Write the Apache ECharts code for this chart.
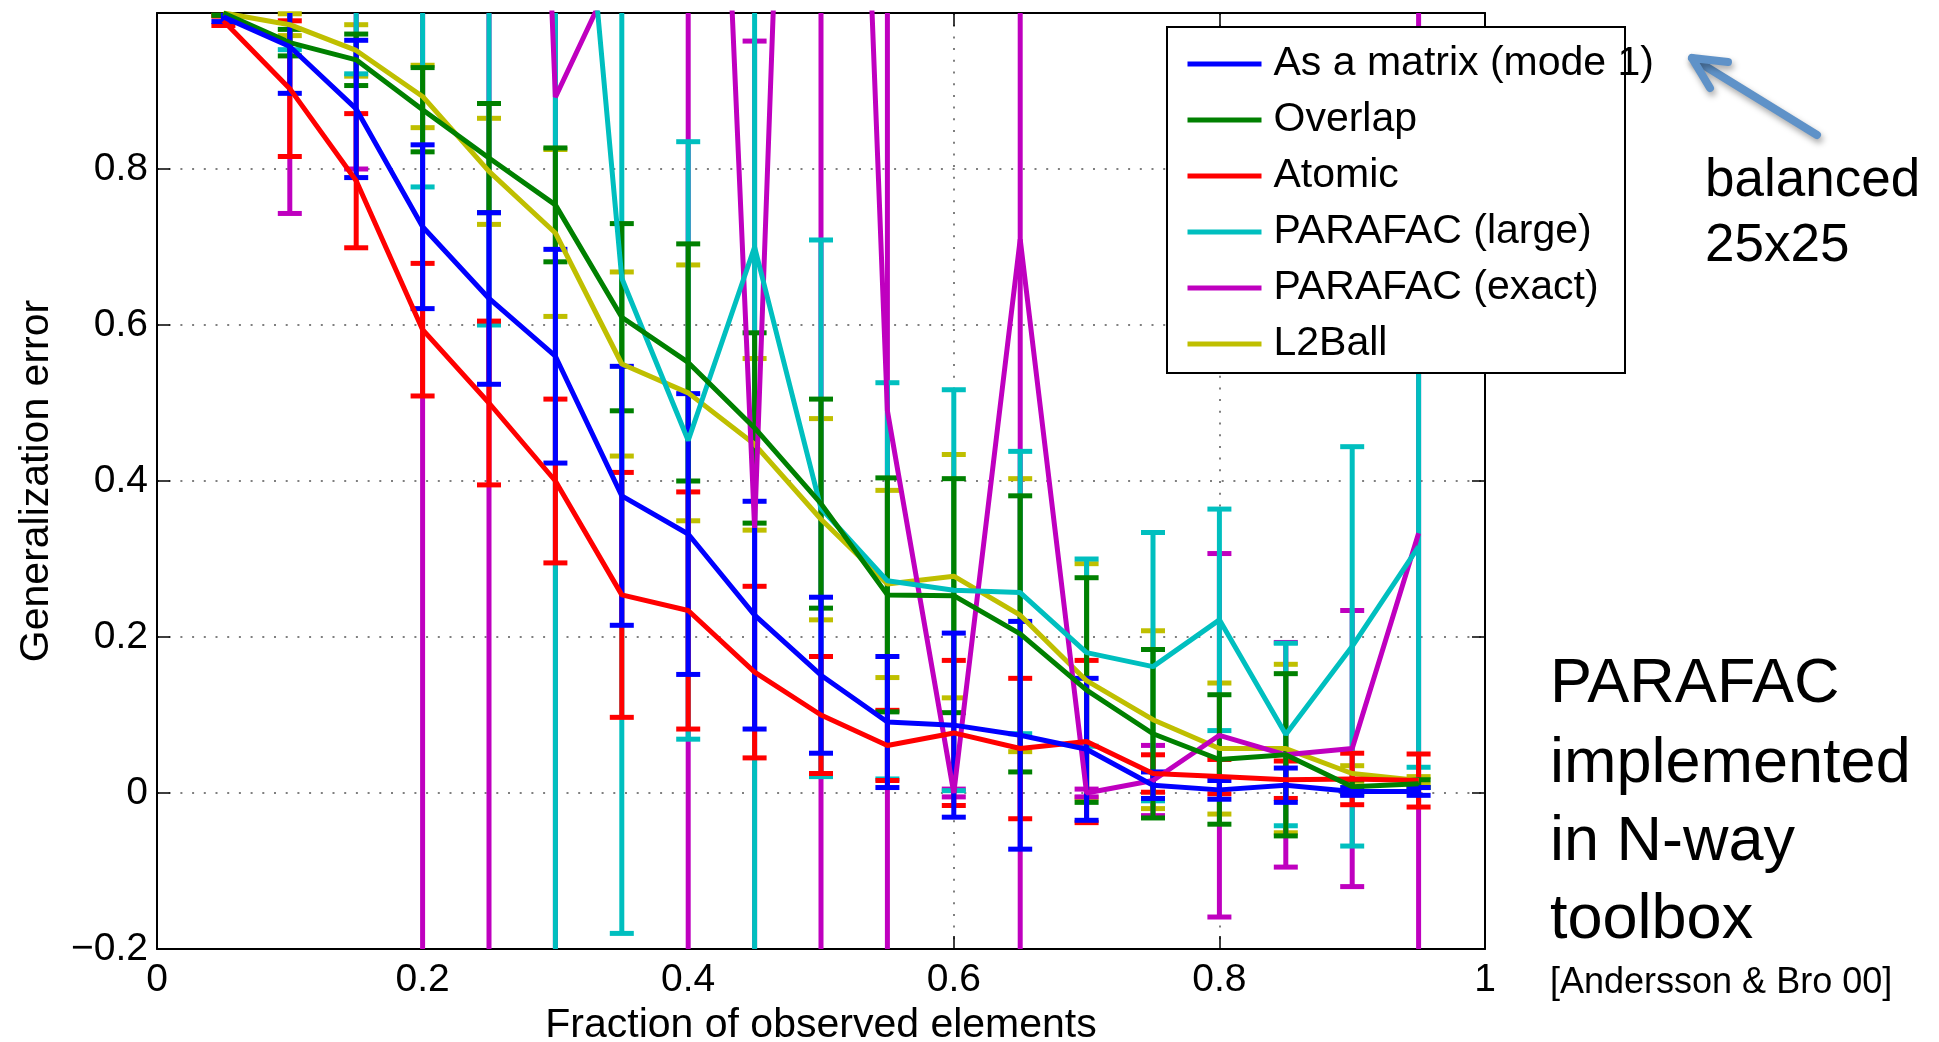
<!DOCTYPE html>
<html>
<head>
<meta charset="utf-8">
<title>Generalization error</title>
<script src="https://cdn.jsdelivr.net/npm/echarts@6/dist/echarts.min.js"></script>
<style>
  html, body { margin: 0; padding: 0; background: #fff; }
  #chart { width: 1939px; height: 1042px; }
</style>
</head>
<body>
<div id="chart"></div>
<script>
const fractions = [0.05, 0.1, 0.15, 0.2, 0.25, 0.3, 0.35, 0.4, 0.45, 0.5, 0.55, 0.6, 0.65, 0.7, 0.75, 0.8, 0.85, 0.9, 0.95];

// mean and half-width of the error bar
const matrixMean  = [0.995, 0.957, 0.877, 0.726, 0.634, 0.56, 0.381, 0.332, 0.228, 0.151, 0.091, 0.087, 0.074, 0.056, 0.01, 0.004, 0.01, 0.002, 0.002];
const matrixErr   = [0.006, 0.06, 0.088, 0.105, 0.11, 0.137, 0.166, 0.18, 0.146, 0.1, 0.084, 0.118, 0.146, 0.091, 0.017, 0.012, 0.022, 0.005, 0.005];
const overlapMean = [1.0, 0.962, 0.94, 0.876, 0.814, 0.754, 0.61, 0.552, 0.468, 0.371, 0.254, 0.253, 0.204, 0.132, 0.076, 0.043, 0.049, 0.008, 0.012];
const overlapErr  = [0.003, 0.017, 0.033, 0.054, 0.07, 0.073, 0.12, 0.152, 0.122, 0.134, 0.15, 0.15, 0.177, 0.144, 0.108, 0.083, 0.104, 0.009, 0.005];
const atomicMean  = [0.99, 0.903, 0.785, 0.594, 0.5, 0.4, 0.254, 0.234, 0.155, 0.1, 0.061, 0.077, 0.057, 0.066, 0.025, 0.021, 0.017, 0.018, 0.016];
const atomicErr   = [0.006, 0.087, 0.086, 0.085, 0.105, 0.105, 0.157, 0.152, 0.11, 0.075, 0.045, 0.093, 0.09, 0.104, 0.024, 0.022, 0.024, 0.033, 0.034];
const largeMean   = [1.02, 1.1, 1.2, 1.4, 1.6, 1.6, 0.66, 0.452, 0.7, 0.365, 0.272, 0.26, 0.257, 0.18, 0.162, 0.222, 0.075, 0.188, 0.316];
const largeErr    = [0.01, 0.147, 0.278, 0.623, 1.0, 2.0, 0.84, 0.383, 1.0, 0.344, 0.254, 0.257, 0.181, 0.12, 0.172, 0.142, 0.117, 0.256, 0.283];
const exactMean   = [1.05, 1.05, 1.6, 2.5, 3.0, 0.892, 1.073, 2.3, 0.34, 2.7, 0.49, 0.0, 0.71, 0.0, 0.016, 0.074, 0.049, 0.057, 0.333];
const exactErr    = [0.005, 0.307, 0.8, 3.0, 3.5, 1.5, 0.05, 2.6, 0.624, 3.0, 0.9, 0.005, 1.0, 0.005, 0.045, 0.233, 0.144, 0.177, 1.0];
const l2Mean      = [1.0, 0.985, 0.952, 0.893, 0.797, 0.718, 0.55, 0.513, 0.447, 0.351, 0.268, 0.278, 0.228, 0.144, 0.094, 0.057, 0.057, 0.025, 0.016];
const l2Err       = [0.003, 0.014, 0.033, 0.04, 0.068, 0.107, 0.118, 0.164, 0.11, 0.129, 0.12, 0.156, 0.175, 0.15, 0.114, 0.084, 0.108, 0.01, 0.005];

const legendNames = ['As a matrix (mode 1)', 'Overlap', 'Atomic', 'PARAFAC (large)', 'PARAFAC (exact)', 'L2Ball'];

// drawing order, bottom to top
const methods = [
  { name: 'L2Ball', mean: l2Mean, err: l2Err, color: '#bfbf00' },
  { name: 'PARAFAC (exact)', mean: exactMean, err: exactErr, color: '#bf00bf' },
  { name: 'PARAFAC (large)', mean: largeMean, err: largeErr, color: '#00bfbf' },
  { name: 'Atomic', mean: atomicMean, err: atomicErr, color: '#ff0000' },
  { name: 'Overlap', mean: overlapMean, err: overlapErr, color: '#008000' },
  { name: 'As a matrix (mode 1)', mean: matrixMean, err: matrixErr, color: '#0000ff' }
];

const Y_MIN = -0.2, Y_MAX = 1;
const LW = 5, CAP = 12;
const FONT = "'Liberation Sans', Arial, Helvetica, sans-serif";

const makeErrorBar = (color) => (params, api) => {
  const x = api.value(0), lo = api.value(1), hi = api.value(2);
  const cs = params.coordSys;
  const pHi = api.coord([x, hi]);
  const pLo = api.coord([x, lo]);
  const yTop = Math.max(pHi[1], cs.y);
  const yBot = Math.min(pLo[1], cs.y + cs.height);
  if (yTop >= yBot) return;
  const st = () => ({ stroke: color, lineWidth: LW, fill: null });
  const kids = [{ type: 'line', shape: { x1: pHi[0], y1: yTop, x2: pHi[0], y2: yBot }, style: st() }];
  if (hi <= Y_MAX) kids.push({ type: 'line', shape: { x1: pHi[0] - CAP, y1: pHi[1], x2: pHi[0] + CAP, y2: pHi[1] }, style: st() });
  if (lo >= Y_MIN) kids.push({ type: 'line', shape: { x1: pLo[0] - CAP, y1: pLo[1], x2: pLo[0] + CAP, y2: pLo[1] }, style: st() });
  return { type: 'group', children: kids };
};

const series = [];
methods.forEach(m => {
  series.push({
    type: 'custom',
    name: m.name + ' err',
    renderItem: makeErrorBar(m.color),
    data: fractions.map((x, i) => [x, m.mean[i] - m.err[i], m.mean[i] + m.err[i]]),
    encode: { x: 0, y: [1, 2] },
    silent: true
  });
  series.push({
    type: 'line',
    name: m.name,
    data: fractions.map((x, i) => [x, m.mean[i]]),
    symbol: 'none',
    color: m.color,
    lineStyle: { color: m.color, width: LW },
    itemStyle: { color: m.color },
    clip: true,
    silent: true
  });
});

const tickFmt = v => {
  if (Math.abs(v - 1) < 1e-9) return '';
  return String(+v.toFixed(1)).replace('-', '\u2212');
};

const axisBase = {
  type: 'value',
  axisLine: { show: true, onZero: false, lineStyle: { color: '#000', width: 2 } },
  axisTick: { show: true, inside: true, length: 13, lineStyle: { color: '#000', width: 1.5 } },
  splitLine: { show: false }
};

const option = {
  animation: false,
  backgroundColor: '#fff',
  grid: { left: 157, right: 454, top: 13, bottom: 93, containLabel: false, outerBoundsMode: 'none' },
  xAxis: [
    Object.assign({}, axisBase, {
      min: 0, max: 1, interval: 0.2,
      axisLabel: { color: '#000', fontFamily: FONT, fontSize: 39, margin: 12, formatter: v => String(+v.toFixed(1)) },
      splitLine: { show: true, lineStyle: { color: '#555', width: 1.5, type: [2, 9.7] } },
      name: 'Fraction of observed elements',
      nameLocation: 'middle',
      nameGap: 56,
      nameTextStyle: { color: '#000', fontFamily: FONT, fontSize: 41 }
    }),
    Object.assign({}, axisBase, { position: 'top', min: 0, max: 1, interval: 0.2, axisLabel: { show: false } })
  ],
  yAxis: [
    Object.assign({}, axisBase, {
      min: Y_MIN, max: Y_MAX, interval: 0.2,
      axisLabel: { color: '#000', fontFamily: FONT, fontSize: 39, margin: 9, formatter: tickFmt },
      splitLine: { show: true, lineStyle: { color: '#555', width: 1.5, type: [2, 9.7] } },
      name: 'Generalization error',
      nameLocation: 'middle',
      nameGap: 100,
      nameTextStyle: { color: '#000', fontFamily: FONT, fontSize: 41 }
    }),
    Object.assign({}, axisBase, { position: 'right', min: Y_MIN, max: Y_MAX, interval: 0.2, axisLabel: { show: false } })
  ],
  legend: {
    data: legendNames,
    orient: 'vertical',
    left: 1185,
    top: 36,
    padding: 0,
    itemWidth: 74,
    itemHeight: 14,
    itemGap: 0,
    selectedMode: false,
    z: 60,
    itemStyle: { opacity: 0 },
    lineStyle: { width: 5 },
    textStyle: { color: '#000', fontFamily: FONT, fontSize: 41, lineHeight: 56, padding: [0, 0, 0, 7] }
  },
  graphic: [
    { type: 'rect', z: 50, shape: { x: 1167, y: 27, width: 458, height: 346 }, style: { fill: '#fff', stroke: '#000', lineWidth: 2 } },
    { type: 'polyline', z: 50, shape: { points: [[1817, 135], [1692, 58]] },
      style: { stroke: '#5f92c8', lineWidth: 8, fill: null, lineCap: 'round', shadowBlur: 6, shadowOffsetX: 2, shadowOffsetY: 4, shadowColor: 'rgba(0,0,0,0.35)' } },
    { type: 'polyline', z: 50, shape: { points: [[1728, 62], [1692, 58], [1710, 88]] },
      style: { stroke: '#5f92c8', lineWidth: 8, fill: null, lineCap: 'round', lineJoin: 'round', shadowBlur: 6, shadowOffsetX: 2, shadowOffsetY: 4, shadowColor: 'rgba(0,0,0,0.35)' } },
    { type: 'text', z: 50, x: 1705, y: 181, style: { text: 'balanced', font: '53px ' + FONT, fill: '#000', textAlign: 'left', textVerticalAlign: 'middle' } },
    { type: 'text', z: 50, x: 1705, y: 246, style: { text: '25x25', font: '53px ' + FONT, fill: '#000', textAlign: 'left', textVerticalAlign: 'middle' } },
    { type: 'text', z: 50, x: 1550, y: 685, style: { text: 'PARAFAC', font: '63px ' + FONT, fill: '#000', textAlign: 'left', textVerticalAlign: 'middle' } },
    { type: 'text', z: 50, x: 1550, y: 765, style: { text: 'implemented', font: '63px ' + FONT, fill: '#000', textAlign: 'left', textVerticalAlign: 'middle' } },
    { type: 'text', z: 50, x: 1550, y: 843, style: { text: 'in N-way', font: '63px ' + FONT, fill: '#000', textAlign: 'left', textVerticalAlign: 'middle' } },
    { type: 'text', z: 50, x: 1550, y: 921, style: { text: 'toolbox', font: '63px ' + FONT, fill: '#000', textAlign: 'left', textVerticalAlign: 'middle' } },
    { type: 'text', z: 50, x: 1550, y: 983, style: { text: '[Andersson & Bro 00]', font: '36px ' + FONT, fill: '#000', textAlign: 'left', textVerticalAlign: 'middle' } }
  ],
  series: series
};

const chart = echarts.init(document.getElementById('chart'), null, { renderer: 'canvas' });
chart.setOption(option);
</script>
</body>
</html>
